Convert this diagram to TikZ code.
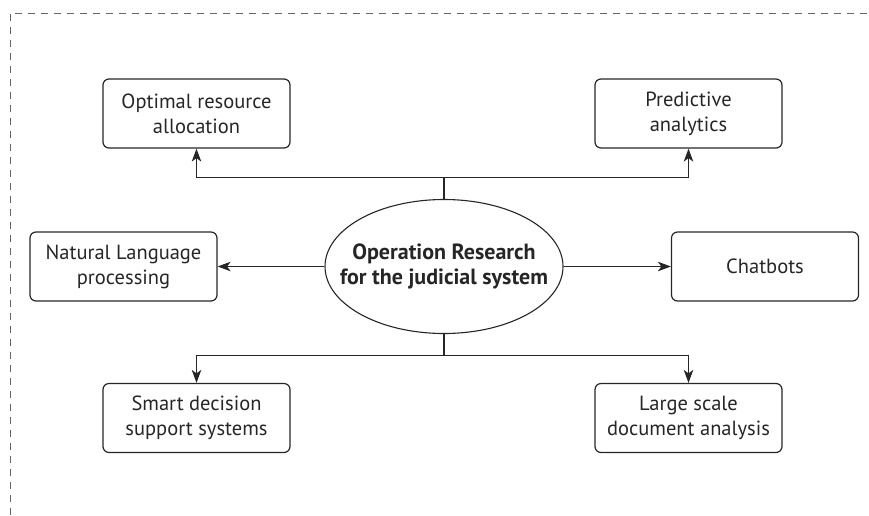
\documentclass[tikz,border=0pt]{standalone}
\usepackage{fontspec}
\setmainfont{PT Sans}
\usetikzlibrary{arrows.meta,shapes.geometric}
\begin{document}
\begin{tikzpicture}[x=1pt,y=-1pt,
  every node/.style={font=\fontsize{20.5}{25}\selectfont, text=black!85},
  leaf/.style={draw=black!85, line width=1.2pt, rounded corners=6pt, minimum width=187pt, minimum height=69pt, align=center, inner sep=0pt},
  hub/.style={draw=black!85, line width=1.1pt, ellipse, minimum width=238pt, minimum height=134pt, inner sep=0pt},
  hubtext/.style={align=center, inner sep=0pt, font=\fontsize{22}{25}\selectfont\bfseries},
  conn/.style={draw=black!85, line width=1.2pt},
  arr/.style={conn, -{Stealth[length=13pt,width=9.5pt,inset=3.5pt]}},
  frame/.style={draw=black!60, line width=1pt, dash pattern=on 7pt off 6pt}]
\useasboundingbox (0,0) rectangle (869,515);
\draw[frame] (10,515) -- (10,13) -- (869,13);
\node[hub] (c) at (444,266.5) {};
\node[hubtext] (ct) at (c.center) {Operation Research\\for the judicial system};
\node[leaf] (opt) at (196.5,113.5) {Optimal resource\\allocation};
\node[leaf] (pred) at (688.5,113.5) {Predictive\\analytics};
\node[leaf] (nlp) at (123.5,266.5) {Natural Language\\processing};
\node[leaf] (chat) at (765,266.5) {Chatbots};
\node[leaf] (sds) at (196.5,418) {Smart decision\\support systems};
\node[leaf] (lsd) at (688.5,418) {Large scale\\document analysis};
\coordinate (tb) at (444,177.5);
\coordinate (bb) at (444,355.5);
\draw[conn] (c.north) -- (tb);
\draw[arr] (tb) -| (opt.south);
\draw[arr] (tb) -| (pred.south);
\draw[conn] (c.south) -- (bb);
\draw[arr] (bb) -| (sds.north);
\draw[arr] (bb) -| (lsd.north);
\draw[arr] (c.west) -- (nlp.east);
\draw[arr] (c.east) -- (chat.west);
\end{tikzpicture}
\end{document}
